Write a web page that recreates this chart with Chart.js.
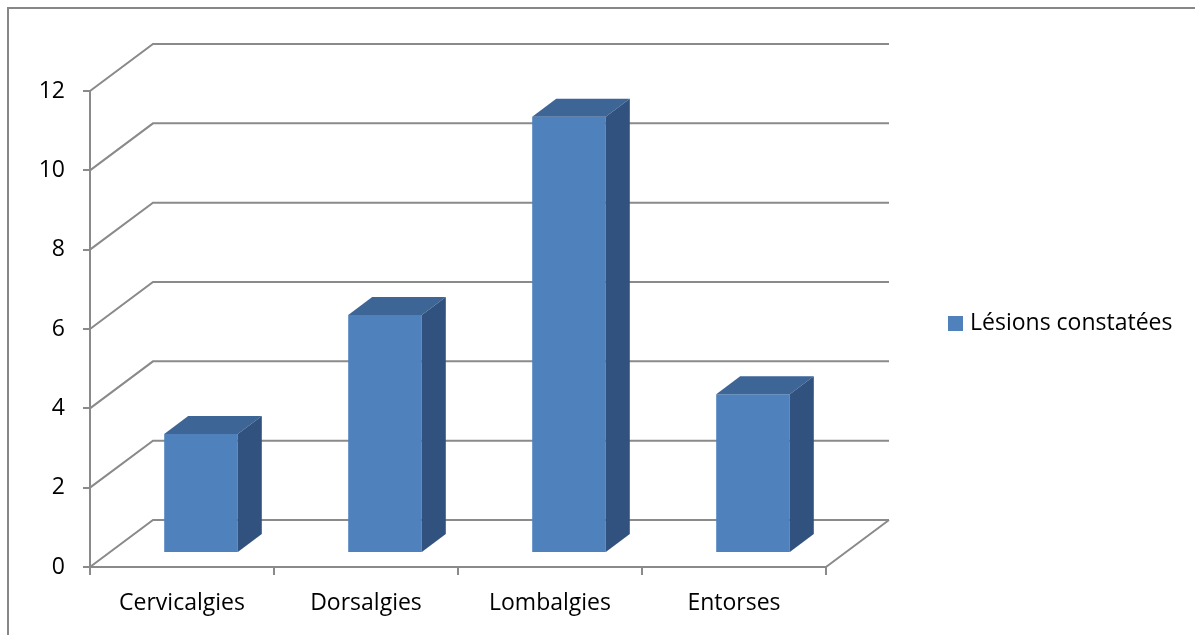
<!DOCTYPE html>
<html>
<head>
<meta charset="utf-8">
<script src="https://cdn.jsdelivr.net/npm/chart.js@4"></script>
<style>
  html, body { margin: 0; padding: 0; background: #fff; overflow: hidden; }
  #frame {
    position: absolute; left: 7px; top: 7px; width: 1200px; height: 640px;
    border: 2px solid #878787;
  }
  #chart { position: absolute; left: 0; top: 0; }
</style>
</head>
<body>
<div id="frame"></div>
<canvas id="chart" width="1195" height="635"></canvas>
<script>
const categories = ["Cervicalgies", "Dorsalgies", "Lombalgies", "Entorses"];
const lesions = [3, 6, 11, 4];
const seriesLabel = "Lésions constatées";

const FONT = { family: "'Open Sans', sans-serif", size: 23 };
const GRID = "#8a8a8a";
const FRONT = "#4f81bd";
const TOP = "#3d6596";
const SIDE = "#31527e";

// depth of the back wall, offset of the columns into the depth, column depth
const WALL = { dx: 63, dy: -47 };
const SHIFT = { dx: 19, dy: -14 };
const DEPTH = { dx: 24, dy: -18 };

const walls3d = {
  id: "walls3d",
  beforeDatasetsDraw(chart) {
    const { ctx, chartArea: a, scales } = chart;
    const y = scales.y;
    ctx.save();
    ctx.strokeStyle = GRID;
    ctx.lineWidth = 2;
    y.ticks.forEach((t) => {
      const py = y.getPixelForValue(t.value);
      ctx.beginPath();
      ctx.moveTo(a.left, py);
      ctx.lineTo(a.left + WALL.dx, py + WALL.dy);
      ctx.lineTo(a.right + WALL.dx, py + WALL.dy);
      ctx.stroke();
    });
    // right edge of the floor
    ctx.beginPath();
    ctx.moveTo(a.right, a.bottom);
    ctx.lineTo(a.right + WALL.dx, a.bottom + WALL.dy);
    ctx.stroke();
    ctx.restore();

    ctx.save();
    ctx.translate(SHIFT.dx, SHIFT.dy);
  },
  afterDatasetsDraw(chart) {
    const { ctx } = chart;
    chart.getDatasetMeta(0).data.forEach((bar) => {
      const { x, y, base, width } = bar.getProps(["x", "y", "base", "width"], true);
      const l = x - width / 2, r = x + width / 2;
      ctx.fillStyle = TOP;
      ctx.beginPath();
      ctx.moveTo(l, y);
      ctx.lineTo(l + DEPTH.dx, y + DEPTH.dy);
      ctx.lineTo(r + DEPTH.dx, y + DEPTH.dy);
      ctx.lineTo(r, y);
      ctx.closePath();
      ctx.fill();
      ctx.fillStyle = SIDE;
      ctx.beginPath();
      ctx.moveTo(r, y);
      ctx.lineTo(r + DEPTH.dx, y + DEPTH.dy);
      ctx.lineTo(r + DEPTH.dx, base + DEPTH.dy);
      ctx.lineTo(r, base);
      ctx.closePath();
      ctx.fill();
    });
    ctx.restore();
  },
  afterDraw(chart) {
    const { ctx } = chart;
    ctx.save();
    ctx.fillStyle = FRONT;
    ctx.fillRect(948, 316, 15, 15);
    ctx.fillStyle = "#000";
    ctx.font = `${FONT.size}px ${FONT.family}`;
    ctx.textBaseline = "middle";
    ctx.fillText(chart.data.datasets[0].label, 970, 323);
    ctx.restore();
  },
};

new Chart(document.getElementById("chart"), {
  type: "bar",
  data: {
    labels: categories,
    datasets: [
      {
        label: seriesLabel,
        data: lesions,
        backgroundColor: FRONT,
        borderWidth: 0,
        barPercentage: 0.4,
        categoryPercentage: 1,
      },
    ],
  },
  options: {
    responsive: false,
    animation: false,
    devicePixelRatio: 1,
    layout: { padding: { top: 91, right: 369, bottom: 0, left: 0 } },
    plugins: { legend: { display: false }, tooltip: { enabled: false } },
    scales: {
      x: {
        afterFit: (s) => { s.height = 68; },
        grid: { drawOnChartArea: false, tickLength: 8, color: GRID, lineWidth: 2 },
        border: { color: GRID, width: 2 },
        ticks: { color: "#000", font: FONT, padding: 15 },
      },
      y: {
        min: 0,
        max: 12,
        afterFit: (s) => { s.width = 90; },
        grid: { drawOnChartArea: false, tickLength: 7, color: GRID, lineWidth: 2 },
        border: { color: GRID, width: 2 },
        ticks: { stepSize: 2, color: "#000", font: FONT, padding: 18 },
      },
    },
  },
  plugins: [walls3d],
});
</script>
</body>
</html>
